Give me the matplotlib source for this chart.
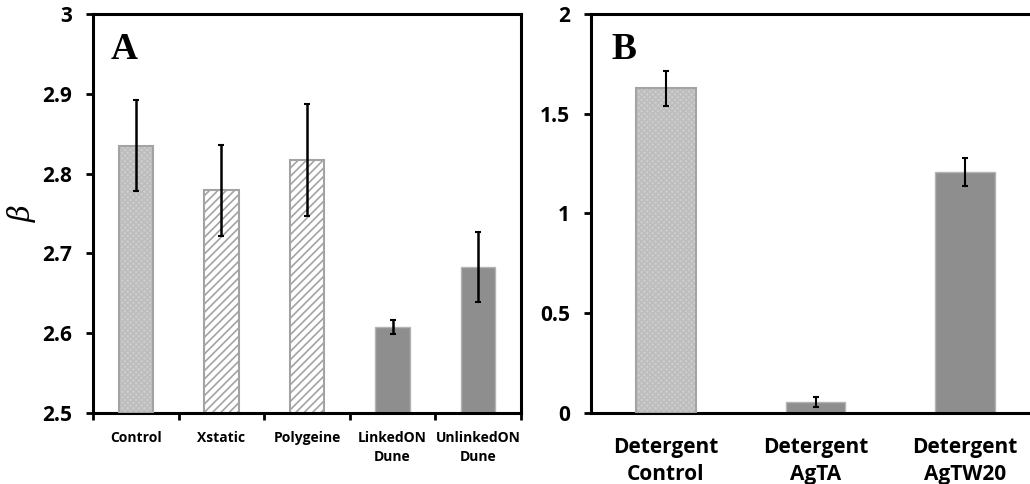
import matplotlib.pyplot as plt
import numpy as np

# panel A: beta values
labels_a = ['Control', 'Xstatic', 'Polygeine', 'LinkedON\nDune', 'UnlinkedON\nDune']
beta = [2.835, 2.779, 2.817, 2.608, 2.683]
beta_err = [0.057, 0.057, 0.070, 0.009, 0.044]
yticks_a = [2.5, 2.6, 2.7, 2.8, 2.9, 3.0]
yticklabels_a = ['2.5', '2.6', '2.7', '2.8', '2.9', '3']

# panel B: detergent series
labels_b = ['Detergent\nControl', 'Detergent\nAgTA', 'Detergent\nAgTW20']
det = [1.628, 0.055, 1.210]
det_err = [0.087, 0.024, 0.070]
yticks_b = [0, 0.5, 1, 1.5, 2]
yticklabels_b = ['0', '0.5', '1', '1.5', '2']

plt.rcParams['font.family'] = ['Open Sans', 'DejaVu Sans']
plt.rcParams['hatch.linewidth'] = 1.2

fig = plt.figure(figsize=(10.3, 4.84), dpi=100)
ax1 = fig.add_axes([0.0903, 0.1467, 0.4155, 0.8244])
ax2 = fig.add_axes([0.5738, 0.1467, 0.4359, 0.8244])

dots_face = '#cdcdcd'
dots_line = '#bdbdbd'
edge = '#a3a3a3'
solid = '#8e8e8e'


def draw_bar(ax, x, h, base, style):
    if style == 'dots':
        ax.bar(x, h - base, bottom=base, width=0.4, color=dots_face,
               edgecolor=dots_line, hatch='xxxxxx', linewidth=0, zorder=2)
        ax.bar(x, h - base, bottom=base, width=0.4, fill=False,
               edgecolor=edge, linewidth=1.5, zorder=3)
    elif style == 'stripes':
        ax.bar(x, h - base, bottom=base, width=0.4, color='white',
               edgecolor=edge, hatch='////', linewidth=1.5, zorder=2)
    else:
        ax.bar(x, h - base, bottom=base, width=0.4, color=solid,
               edgecolor='#b4b4b4', linewidth=1.0, zorder=2)


styles_a = ['dots', 'stripes', 'stripes', 'solid', 'solid']
xa = np.arange(len(beta))
for i in range(len(beta)):
    draw_bar(ax1, xa[i], beta[i], 2.5, styles_a[i])
ax1.errorbar(xa, beta, yerr=beta_err, fmt='none', ecolor='black',
             elinewidth=1.8, capsize=2.5, capthick=1.5, zorder=4)

ax1.set_xlim(-0.5, len(beta) - 0.5)
ax1.set_ylim(2.5, 3.0)
ax1.set_yticks(yticks_a)
ax1.set_yticklabels(yticklabels_a, fontsize=15, fontweight='bold')
ax1.set_xticks(xa)
ax1.set_xticklabels(labels_a, fontsize=10, fontweight='bold', linespacing=1.45)
ax1.set_xticks(np.arange(-0.5, len(beta)), minor=True)
ax1.tick_params(axis='x', which='major', length=0, pad=13)
ax1.tick_params(axis='x', which='minor', length=5, width=2, direction='out')
ax1.tick_params(axis='y', length=5, width=2, direction='out', pad=10)
ax1.set_ylabel('β', fontsize=21, family='DejaVu Serif', style='italic',
               fontweight='normal', labelpad=4)
for s in ax1.spines.values():
    s.set_linewidth(2.2)
ax1.text(0.04, 0.955, 'A', transform=ax1.transAxes, fontsize=27,
         fontweight='bold', family='Liberation Serif', va='top', ha='left')

styles_b = ['dots', 'solid', 'solid']
xb = np.arange(len(det))
for i in range(len(det)):
    draw_bar(ax2, xb[i], det[i], 0, styles_b[i])
ax2.errorbar(xb, det, yerr=det_err, fmt='none', ecolor='black',
             elinewidth=1.5, capsize=2.5, capthick=1.5, zorder=4)

ax2.set_xlim(-0.5, len(det) - 0.5)
ax2.set_ylim(0, 2)
ax2.set_yticks(yticks_b)
ax2.set_yticklabels(yticklabels_b, fontsize=15, fontweight='bold')
ax2.set_xticks(xb)
ax2.set_xticklabels(labels_b, fontsize=15, fontweight='bold', linespacing=1.4)
ax2.tick_params(axis='x', length=0, pad=17)
ax2.tick_params(axis='y', length=5, width=2, direction='out', pad=10)
for s in ax2.spines.values():
    s.set_linewidth(2.2)
ax2.text(0.045, 0.955, 'B', transform=ax2.transAxes, fontsize=27,
         fontweight='bold', family='Liberation Serif', va='top', ha='left')

fig.savefig('out.png', dpi=100)
